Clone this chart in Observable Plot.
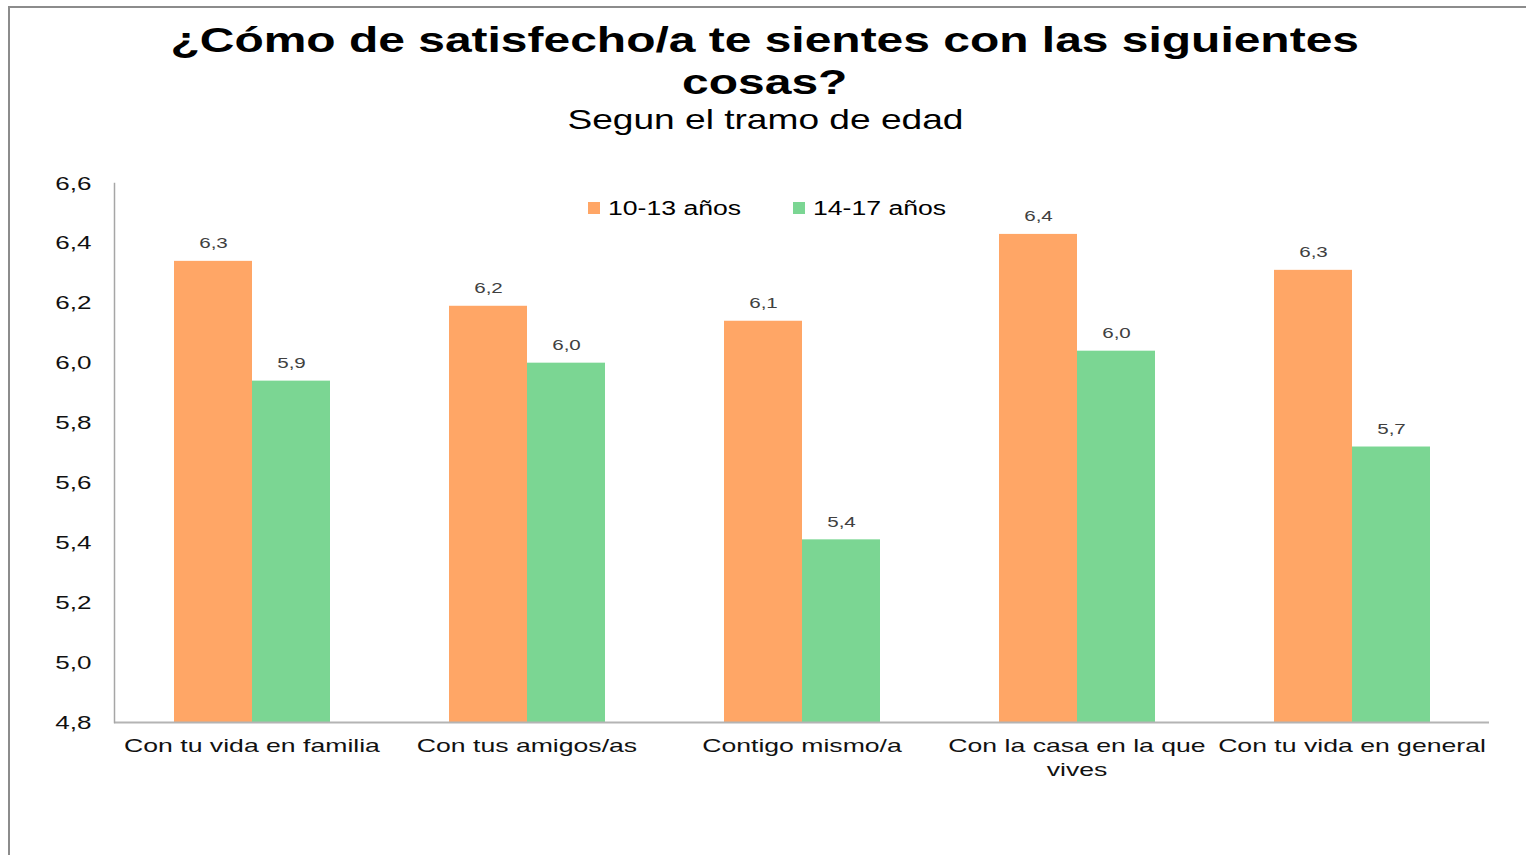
<!DOCTYPE html>
<html>
<head>
<meta charset="utf-8">
<script src="https://cdn.jsdelivr.net/npm/d3@7"></script>
<script src="https://cdn.jsdelivr.net/npm/@observablehq/plot@0.6"></script>
<style>
  html, body { margin: 0; padding: 0; background: #fff; }
  body { width: 1526px; height: 855px; position: relative; overflow: hidden; font-family: "Liberation Sans", Arial, sans-serif; color: #000; }
  #frame { position: absolute; left: 8px; top: 6px; width: 1518px; height: 849px; border-top: 2px solid #8c8c8c; border-left: 2px solid #8c8c8c; box-sizing: border-box; }
  .line { position: absolute; left: 0; width: 1530px; text-align: center; white-space: nowrap; }
  .line span { display: inline-block; transform-origin: center; }
  #t1 { top: 19px; font-size: 35px; font-weight: bold; line-height: 42px; }
  #t1 span { transform: scaleX(1.37); }
  #t2 { top: 106px; font-size: 28px; line-height: 28px; }
  #t2 span { transform: scaleX(1.325); }
  #chart { position: absolute; left: 0; top: 150px; }
  .leg { position: absolute; top: 196px; height: 24px; font-size: 20px; line-height: 24px; white-space: nowrap; }
  .leg i { position: absolute; left: 0; top: 6px; width: 12px; height: 12px; }
  .leg span { position: absolute; left: 20px; top: 0; display: inline-block; transform: scaleX(1.33); transform-origin: left center; }
</style>
</head>
<body>
<div id="frame"></div>
<div class="line" id="t1"><span>¿Cómo de satisfecho/a te sientes con las siguientes<br>cosas?</span></div>
<div class="line" id="t2"><span>Segun el tramo de edad</span></div>
<div id="chart"></div>
<div id="legend"></div>
<script>
const categories = ["Con tu vida en familia", "Con tus amigos/as", "Contigo mismo/a", "Con la casa en la que vives", "Con tu vida en general"];
const tickLabels = ["Con tu vida en familia", "Con tus amigos/as", "Contigo mismo/a", "Con la casa en la que\nvives", "Con tu vida en general"];
const series = ["10-13 años", "14-17 años"];
const values1013 = [6.34, 6.19, 6.14, 6.43, 6.31];
const values1417 = [5.94, 6.00, 5.41, 6.04, 5.72];
const colors = ["#FFA666", "#7BD693"];
const yDomain = [4.8, 6.6];
const yTicks = [4.8, 5.0, 5.2, 5.4, 5.6, 5.8, 6.0, 6.2, 6.4, 6.6];

const data = categories.flatMap((c, i) => [
  {cat: c, s: series[0], v: values1013[i]},
  {cat: c, s: series[1], v: values1417[i]}
]);
const fmt = v => v.toFixed(1).replace(".", ",");

const chart = Plot.plot({
  width: 1526, height: 700,
  marginTop: 33, marginBottom: 128, marginLeft: 112, marginRight: 36,
  style: {fontFamily: "'Liberation Sans', Arial, sans-serif", background: "transparent", overflow: "visible", color: "#111"},
  fx: {domain: categories, padding: 0, label: null},
  x: {domain: series, paddingInner: 0, paddingOuter: 0.754, axis: null},
  y: {domain: yDomain, label: null},
  color: {domain: series, range: colors},
  marks: [
    Plot.barY(data, {fx: "cat", x: "s", y1: yDomain[0], y2: "v", fill: "s"}),
    Plot.ruleY([yDomain[0]], {stroke: "#b4b4b4", strokeWidth: 2}),
    Plot.frame({anchor: "left", facetAnchor: "left", stroke: "#a6a6a6", strokeWidth: 1.5}),
    Plot.axisY({ticks: yTicks, tickSize: 0, tickPadding: 23, fontSize: 19, tickFormat: fmt, label: null}),
    Plot.axisFx({anchor: "bottom", tickSize: 0, tickPadding: 13, fontSize: 19, lineHeight: 1.25, label: null,
      tickFormat: d => tickLabels[categories.indexOf(d)]}),
    Plot.text(data, {fx: "cat", x: "s", y: "v", text: d => fmt(d.v), dy: -18, fontSize: 15, fill: "#404040"})
  ]
});
document.getElementById("chart").appendChild(chart);

// horizontally stretch glyphs like the reference
function stretch(root, kDefault, kFx) {
  root.querySelectorAll("text").forEach(t => {
    const k = t.closest('[aria-label="fx-axis tick label"]') ? kFx : kDefault;
    const spans = t.querySelectorAll("tspan");
    const targets = spans.length ? [...spans] : [t];
    targets.forEach(el => {
      const L = el.getComputedTextLength();
      if (L > 0) {
        el.setAttribute("textLength", (L * k).toFixed(1));
        el.setAttribute("lengthAdjust", "spacingAndGlyphs");
      }
    });
  });
}
stretch(chart, 1.37, 1.40);

// legend
const legendLeft = [588, 793];
const legend = document.getElementById("legend");
series.forEach((s, i) => {
  const d = document.createElement("div");
  d.className = "leg";
  d.style.left = legendLeft[i] + "px";
  d.innerHTML = `<i style="background:${colors[i]}"></i><span>${s}</span>`;
  legend.appendChild(d);
});
</script>
</body>
</html>
